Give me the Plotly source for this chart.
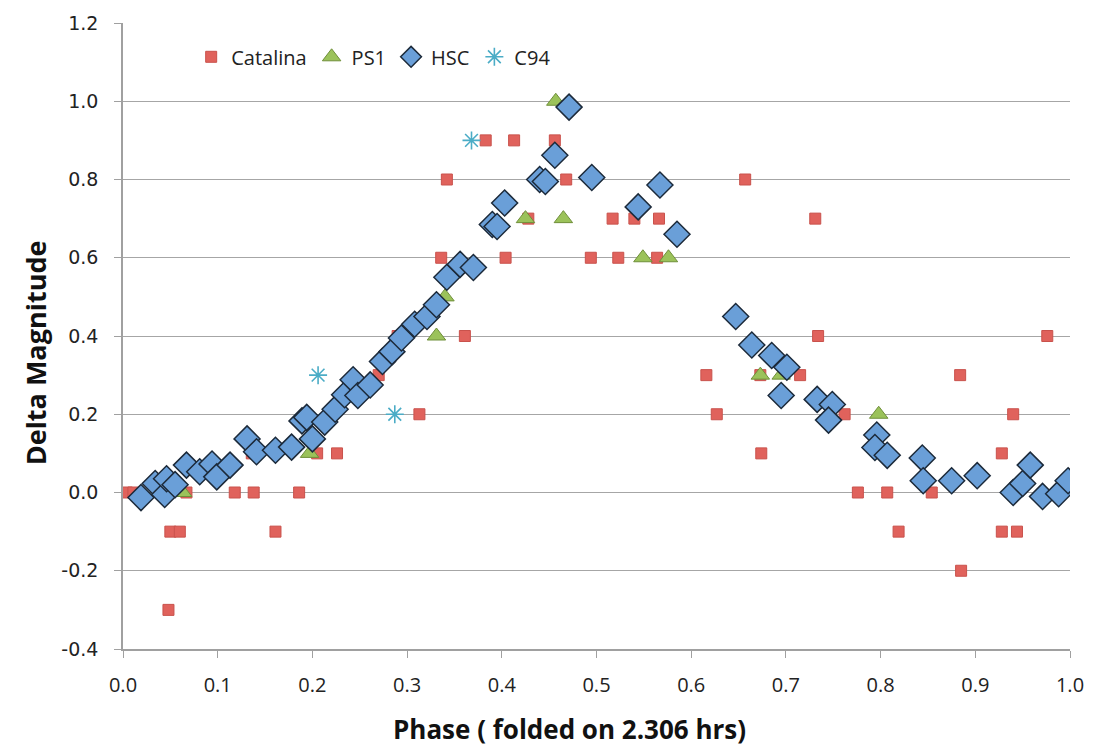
import plotly.graph_objects as go

# Catalina
cat_phase = [0.004, 0.011, 0.048, 0.050, 0.060, 0.067, 0.118, 0.138, 0.161, 0.186,
             0.136, 0.205, 0.226, 0.270, 0.290, 0.313, 0.336, 0.342, 0.361,
             0.383, 0.404, 0.413, 0.428, 0.456, 0.468, 0.494, 0.517, 0.523, 0.540,
             0.564, 0.566, 0.616, 0.627, 0.657, 0.673, 0.674, 0.715, 0.731, 0.734,
             0.762, 0.776, 0.807, 0.819, 0.854, 0.884, 0.885, 0.928, 0.928, 0.940,
             0.944, 0.976]
cat_mag = [0.0, 0.0, -0.3, -0.1, -0.1, 0.0, 0.0, 0.0, -0.1, 0.0,
           0.1, 0.1, 0.1, 0.3, 0.4, 0.2, 0.6, 0.8, 0.4,
           0.9, 0.6, 0.9, 0.7, 0.9, 0.8, 0.6, 0.7, 0.6, 0.7,
           0.6, 0.7, 0.3, 0.2, 0.8, 0.3, 0.1, 0.3, 0.7, 0.4,
           0.2, 0.0, 0.0, -0.1, 0.0, 0.3, -0.2, 0.1, -0.1, 0.2,
           -0.1, 0.4]

# PS1
ps1_phase = [0.063, 0.197, 0.331, 0.340, 0.425, 0.457, 0.465, 0.549, 0.576, 0.673, 0.695, 0.798]
ps1_mag = [0.0, 0.1, 0.4, 0.5, 0.7, 1.0, 0.7, 0.6, 0.6, 0.3, 0.3, 0.2]

# HSC
hsc_phase = [0.019, 0.034, 0.044, 0.046, 0.055, 0.067, 0.081, 0.094, 0.099, 0.113,
             0.131, 0.141, 0.161, 0.178, 0.189, 0.194, 0.200, 0.213, 0.224, 0.234,
             0.243, 0.248, 0.261, 0.274, 0.284, 0.294, 0.308, 0.321, 0.331, 0.342,
             0.356, 0.370, 0.390, 0.395, 0.403, 0.440, 0.446, 0.456, 0.471, 0.495,
             0.544, 0.567, 0.585, 0.647, 0.664, 0.685, 0.701, 0.695, 0.733, 0.749,
             0.745, 0.796, 0.794, 0.807, 0.844, 0.845, 0.875, 0.902, 0.940, 0.950,
             0.958, 0.971, 0.988, 0.998]
hsc_mag = [-0.013, 0.023, -0.005, 0.035, 0.02, 0.07, 0.053, 0.073, 0.04, 0.07,
           0.137, 0.104, 0.108, 0.116, 0.183, 0.192, 0.137, 0.18, 0.213, 0.25,
           0.288, 0.248, 0.275, 0.335, 0.36, 0.395, 0.43, 0.45, 0.48, 0.55,
           0.583, 0.575, 0.685, 0.68, 0.74, 0.80, 0.795, 0.862, 0.985, 0.805,
           0.73, 0.786, 0.66, 0.45, 0.377, 0.35, 0.32, 0.248, 0.238, 0.225,
           0.185, 0.147, 0.115, 0.095, 0.088, 0.03, 0.03, 0.043, 0.0, 0.023,
           0.07, -0.01, -0.003, 0.03]

# C94
c94_phase = [0.206, 0.287, 0.368]
c94_mag = [0.3, 0.2, 0.9]

y_ticks = [-0.4, -0.2, 0.0, 0.2, 0.4, 0.6, 0.8, 1.0, 1.2]
x_ticks = [0.0, 0.1, 0.2, 0.3, 0.4, 0.5, 0.6, 0.7, 0.8, 0.9, 1.0]

fig = go.Figure()
fig.add_trace(go.Scatter(
    x=cat_phase, y=cat_mag, mode="markers", name="Catalina",
    marker=dict(symbol="square", size=11, color="#e0625c",
                line=dict(color="#c9524c", width=1))))
fig.add_trace(go.Scatter(
    x=ps1_phase, y=ps1_mag, mode="markers", name="PS1",
    marker=dict(symbol="triangle-up", size=16, color="#9bc25a",
                line=dict(color="#6f8f3a", width=1))))
fig.add_trace(go.Scatter(
    x=hsc_phase, y=hsc_mag, mode="markers", name="HSC",
    marker=dict(symbol="diamond", size=20, color="#6a9fd8",
                line=dict(color="#1c2a3a", width=1.5))))
fig.add_trace(go.Scatter(
    x=c94_phase, y=c94_mag, mode="markers", name="C94",
    marker=dict(symbol="asterisk-open", size=15, color="#4bacc6",
                line=dict(color="#3f8ea8", width=1.6))))

fig.update_layout(
    width=1107, height=747,
    margin=dict(l=123, r=37, t=16, b=98),
    plot_bgcolor="white", paper_bgcolor="white",
    font=dict(family="DejaVu Sans", size=17, color="#222"),
    showlegend=True,
    legend=dict(orientation="h", x=0.072, y=0.946, xanchor="left", yanchor="middle",
                bgcolor="rgba(0,0,0,0)", font=dict(family="Open Sans", size=20, color="#222"),
                itemwidth=30, tracegroupgap=0),
    xaxis=dict(range=[0, 1], tickvals=x_ticks, ticktext=[f"{v:.1f}" for v in x_ticks],
               showgrid=False, showline=True, linecolor="#a0a0a0", linewidth=1.5,
               ticks="outside", ticklen=7, tickcolor="#a0a0a0", zeroline=False,
               ticklabelstandoff=10,
               tickfont=dict(family="Open Sans", size=20, color="#222")),
    yaxis=dict(range=[-0.4, 1.2], tickvals=y_ticks, ticktext=[f"{v:.1f}" for v in y_ticks],
               showgrid=True, gridcolor="#a6a6a6", gridwidth=1.2,
               showline=True, linecolor="#a0a0a0", linewidth=1.5,
               ticks="outside", ticklen=7, tickcolor="#a0a0a0", zeroline=False,
               ticklabelstandoff=12,
               tickfont=dict(family="DejaVu Sans", size=19, color="#222")),
    annotations=[
        dict(text="<b>Phase ( folded on 2.306 hrs)</b>", xref="paper", yref="paper",
             x=(569 - 123) / 947, y=-(730 - 649) / 633, xanchor="center", yanchor="middle",
             showarrow=False, font=dict(family="Open Sans", size=26, color="#111")),
        dict(text="<b>Delta Magnitude</b>", xref="paper", yref="paper",
             x=-(123 - 35) / 947, y=(649 - 350) / 633, xanchor="center", yanchor="middle",
             textangle=-90, showarrow=False,
             font=dict(family="Open Sans", size=27, color="#111")),
    ],
)

fig.write_html("out.html")
